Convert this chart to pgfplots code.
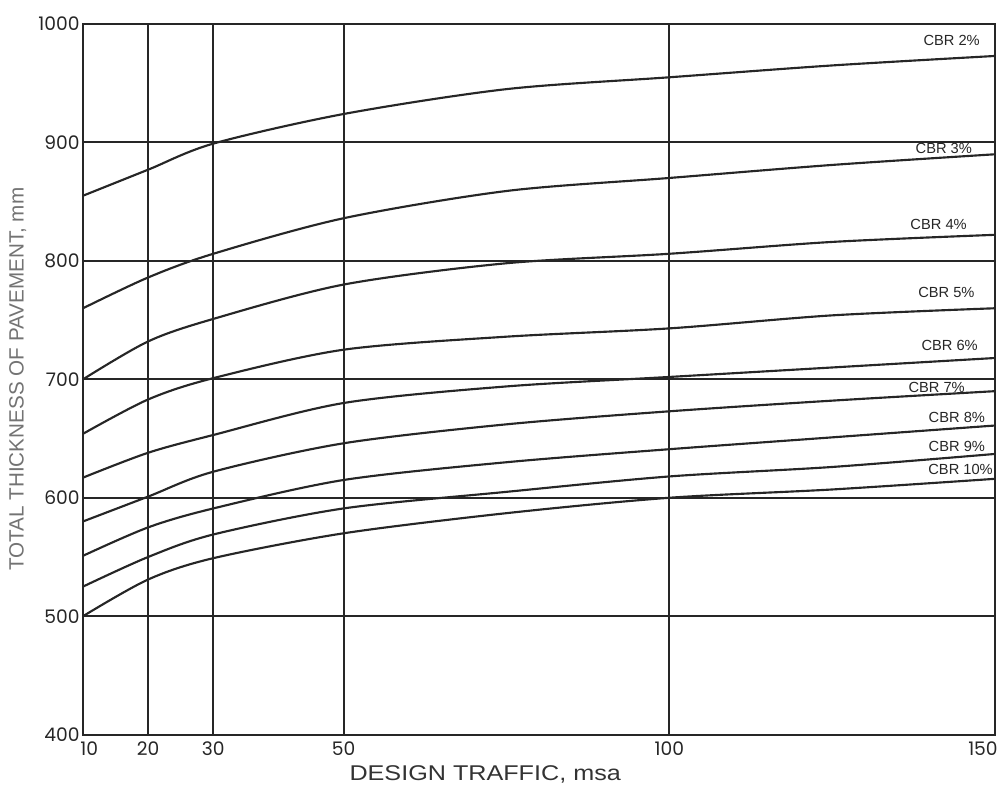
\documentclass[border=0pt]{standalone}
\usepackage{fontspec}
\setmainfont{Liberation Sans}
\newfontfamily\tickfont{Poppins}
\newfontfamily\xlabfont[FakeStretch=1.18]{Liberation Sans}
\usepackage{pgfplots}
\pgfplotsset{compat=1.18}
\pgfplotsset{curve/.style={black!85, line width=1.6pt, smooth, tension=0.5, mark=none}}
\begin{document}
\begin{tikzpicture}
\begin{axis}[
  scale only axis, width=684pt, height=533pt,
  xmin=10, xmax=150, ymin=400, ymax=1000,
  xtick={10,20,30,50,100,150},
  xticklabels={{\makebox[0pt][l]{\hspace{-2pt}10}},20,30,50,100,{\makebox[0pt][r]{150\hspace{-2pt}}}},
  ytick={400,500,600,700,800,900,1000},
  grid=major,
  grid style={black!85, line width=1.5pt},
  axis line style={black!85, line width=1.6pt},
  tick style={draw=none},
  ticklabel style={font=\tickfont\fontsize{14}{16}\selectfont, text=black!85},
  xticklabel style={yshift=-2pt},
  yticklabel style={xshift=1pt},
  /pgf/number format/assume math mode=true,
  /pgf/number format/1000 sep={},
  clip=false,
]
% CBR 2%
\addplot[curve] coordinates {(10,855)(20,877)(30,899)(50,924)(75,945)(100,955)(125,965)(150,973)};
% CBR 3%
\addplot[curve] coordinates {(10,760)(20,786)(30,806)(50,836)(75,859)(100,870)(125,881)(150,890)};
% CBR 4%
\addplot[curve] coordinates {(10,700)(20,732)(30,751)(50,780)(75,798)(100,806)(125,816)(150,822)};
% CBR 5%
\addplot[curve] coordinates {(10,654)(20,683)(30,701)(50,725)(75,736)(100,743)(125,754)(150,760)};
% CBR 6%
\addplot[curve] coordinates {(10,617)(20,638)(30,653)(50,680)(75,694)(100,702)(125,710)(150,718)};
% CBR 7%
\addplot[curve] coordinates {(10,580)(20,601)(30,622)(50,646)(75,662)(100,673)(125,682)(150,690)};
% CBR 8%
\addplot[curve] coordinates {(10,551)(20,575)(30,591)(50,615)(75,630)(100,641)(125,651)(150,661)};
% CBR 9%
\addplot[curve] coordinates {(10,525)(20,550)(30,569)(50,591)(75,605)(100,618)(125,626)(150,637)};
% CBR 10%
\addplot[curve] coordinates {(10,500)(20,531)(30,549)(50,570)(75,587)(100,600)(125,607)(150,616)};

\begin{scope}[every node/.style={anchor=east, inner sep=0pt, font=\fontsize{11}{13}\selectfont, text=black!85}]
\node at (axis cs:147.7,986) {CBR 2\%};
\node at (axis cs:146.5,895) {CBR 3\%};
\node at (axis cs:145.7,831) {CBR 4\%};
\node at (axis cs:146.9,773) {CBR 5\%};
\node at (axis cs:147.4,729) {CBR 6\%};
\node at (axis cs:145.4,693) {CBR 7\%};
\node at (axis cs:148.5,668) {CBR 8\%};
\node at (axis cs:148.5,643) {CBR 9\%};
\node at (axis cs:149.7,624) {CBR 10\%};
\end{scope}

\node[font=\xlabfont\fontsize{16}{18}\selectfont, text=black!80] at ([yshift=-30pt]rel axis cs:0.441,0) {DESIGN TRAFFIC, msa};
\node[rotate=90, font=\fontsize{15.5}{18}\selectfont, text=black!55] at ([xshift=-49pt]rel axis cs:0,0.5) {TOTAL THICKNESS OF PAVEMENT, mm};
\end{axis}
\pgfresetboundingbox
\path ([shift={(-62.25pt,-43.5pt)}]current axis.south west) rectangle ([shift={(5.25pt,18pt)}]current axis.north east);
\end{tikzpicture}
\end{document}
